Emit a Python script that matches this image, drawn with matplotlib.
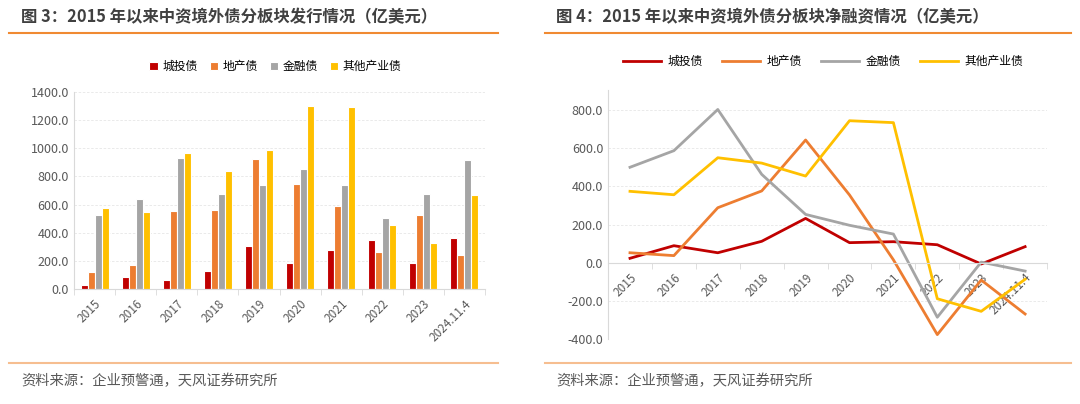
import numpy as np
import matplotlib
matplotlib.use('Agg')
import matplotlib.pyplot as plt
from matplotlib.lines import Line2D

plt.rcParams['font.family'] = ['Noto Sans CJK SC', 'DejaVu Sans']

categories = ['2015', '2016', '2017', '2018', '2019', '2020', '2021', '2022', '2023', '2024.11.4']
series_names = ['城投债', '地产债', '金融债', '其他产业债']
colors = ['#C00000', '#ED7D31', '#A5A5A5', '#FFC000']

# 发行情况（亿美元）
issue_lgfv = [26, 83, 62, 130, 306, 187, 280, 348, 182, 362]
issue_property = [121, 173, 552, 561, 926, 749, 590, 261, 524, 239]
issue_financial = [524, 642, 933, 678, 737, 853, 737, 502, 678, 919]
issue_other = [576, 545, 964, 839, 986, 1301, 1291, 452, 325, 670]

# 净融资情况（亿美元）
net_lgfv = [23, 89, 52, 112, 232, 105, 110, 94, -7, 84]
net_property = [52, 37, 288, 376, 643, 355, 15, -377, -91, -269]
net_financial = [500, 587, 803, 463, 253, 196, 150, -286, 3, -44]
net_other = [374, 356, 550, 522, 454, 744, 734, -189, -255, -87]

tick_color = '#595959'
axis_color = '#D9D9D9'
orange_line = '#F08A32'


def style_axes(ax):
    for s in ['top', 'right']:
        ax.spines[s].set_visible(False)
    ax.spines['left'].set_color(axis_color)
    ax.spines['bottom'].set_color(axis_color)
    ax.grid(axis='y', color='#E6E6E6', linestyle=(0, (3, 2)), linewidth=0.6)
    ax.set_axisbelow(True)
    n = len(categories)
    x = np.arange(n)
    ax.set_xticks(x)
    ax.set_xticklabels(categories, rotation=45, ha='right', rotation_mode='anchor',
                       fontsize=8.5, color=tick_color)
    ax.set_xticks(np.arange(n + 1) - 0.5, minor=True)
    ax.tick_params(axis='x', which='major', length=0, pad=6)
    ax.tick_params(axis='x', which='minor', length=4, color=axis_color)
    ax.tick_params(axis='y', length=0, labelsize=9, labelcolor=tick_color)
    ax.set_xlim(-0.5, n - 0.5)
    ax.yaxis.set_major_formatter(matplotlib.ticker.FormatStrFormatter('%.1f'))


fig = plt.figure(figsize=(10.8, 4.04), dpi=100)

# ---- 左图：柱状 ----
ax1 = fig.add_axes([0.0685, 0.2847, 0.3806, 0.4876])
x = np.arange(len(categories))
w = 0.17
issue = [issue_lgfv, issue_property, issue_financial, issue_other]
for i, (vals, name, c) in enumerate(zip(issue, series_names, colors)):
    ax1.bar(x + (i - 1.5) * w, vals, width=w, color=c, edgecolor='white',
            linewidth=0.8, label=name)
ax1.set_ylim(0, 1400)
ax1.set_yticks(np.arange(0, 1401, 200))
style_axes(ax1)
ax1.legend(loc='center', bbox_to_anchor=(0.49, 1.13), ncol=4, frameon=False,
           fontsize=8.5, handlelength=0.7, handleheight=0.7, columnspacing=1.0,
           handletextpad=0.4)

# ---- 右图：折线 ----
ax2 = fig.add_axes([0.563, 0.1609, 0.4065, 0.6163])
net = [net_lgfv, net_property, net_financial, net_other]
for vals, name, c in zip(net, series_names, colors):
    ax2.plot(x, vals, color=c, linewidth=2, label=name)
ax2.set_ylim(-400, 905)
ax2.set_yticks(np.arange(-400, 801, 200))
ax2.spines['bottom'].set_position(('data', 0))
style_axes(ax2)
ax2.legend(loc='center', bbox_to_anchor=(0.49, 1.115), ncol=4, frameon=False,
           fontsize=8.5, handlelength=3.2, columnspacing=1.6, handletextpad=0.6)

# ---- 标题、分隔线、来源 ----
fig.text(0.0195, 0.958, '图 3：2015 年以来中资境外债分板块发行情况（亿美元）',
         fontsize=11.8, fontweight='bold', color='#404040', va='center')
fig.text(0.515, 0.958, '图 4：2015 年以来中资境外债分板块净融资情况（亿美元）',
         fontsize=11.8, fontweight='bold', color='#404040', va='center')
for x0, x1 in [(0.0085, 0.461), (0.505, 0.992)]:
    fig.add_artist(Line2D([x0, x1], [0.918, 0.918], color=orange_line, linewidth=1.5))
    fig.add_artist(Line2D([x0, x1], [0.1015, 0.1015], color='#F6BE90', linewidth=1.5))
fig.text(0.0195, 0.057, '资料来源：企业预警通，天风证券研究所', fontsize=10.3,
         color='#595959', va='center')
fig.text(0.515, 0.057, '资料来源：企业预警通，天风证券研究所', fontsize=10.3,
         color='#595959', va='center')

fig.savefig('out.png', dpi=100)
